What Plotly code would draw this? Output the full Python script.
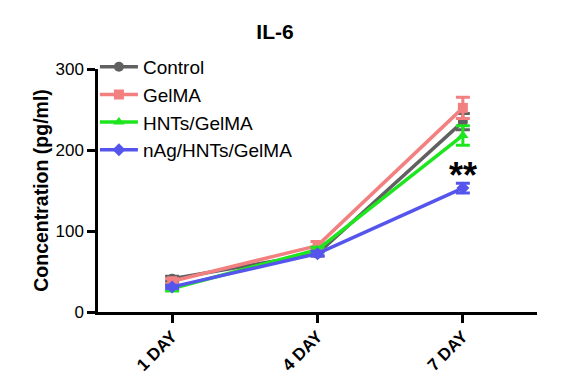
import plotly.graph_objects as go

days = ["1 DAY", "4 DAY", "7 DAY"]
control = [41, 72, 235]
control_err = [3, 3, 10]
gelma = [38, 82, 252]
gelma_err = [3, 5, 13]
hnts = [29, 77, 218]
hnts_err = [3, 3, 12]
nag = [31, 72, 153]
nag_err = [2, 3, 6]

names = ["Control", "GelMA", "HNTs/GelMA", "nAg/HNTs/GelMA"]
colors = ["#606060", "#f38080", "#1ee61e", "#5555ee"]
symbols = ["circle", "square", "triangle-up", "diamond"]
series = [control, gelma, hnts, nag]
errs = [control_err, gelma_err, hnts_err, nag_err]

FONT = "Liberation Sans, Arial, sans-serif"

fig = go.Figure()
for n, c, s, v, e in zip(names, colors, symbols, series, errs):
    fig.add_trace(go.Scatter(
        x=days, y=v, name=n, mode="lines+markers",
        line=dict(color=c, width=3.5),
        marker=dict(symbol=s, size=10, color=c),
        error_y=dict(type="data", array=e, color=c, thickness=3, width=7),
    ))

fig.add_annotation(x="7 DAY", y=168, text="<b>**</b>", showarrow=False,
                   font=dict(family=FONT, size=36, color="black"))

fig.update_layout(
    width=563, height=380,
    margin=dict(l=90, r=34, t=61, b=76),
    paper_bgcolor="white", plot_bgcolor="white",
    font=dict(family=FONT, color="black"),
    title=dict(text="<b>IL-6</b>", x=267/563, xanchor="center", y=1-24/380, yanchor="middle",
               font=dict(size=21, family=FONT, color="black")),
    showlegend=True,
    legend=dict(x=-0.007, y=1.087, xanchor="left", yanchor="top",
                font=dict(size=19, family=FONT, color="black"),
                bgcolor="rgba(0,0,0,0)", tracegroupgap=0, itemwidth=38),
    xaxis=dict(range=[-0.51, 2.51], showline=True, linecolor="black", linewidth=2.5,
               ticks="outside", ticklen=8, tickwidth=2.5, tickcolor="black",
               tickangle=-45, showgrid=False, zeroline=False, ticklabelstandoff=-3,
               tickfont=dict(size=17, family=FONT, color="black"),
               tickprefix="<b>", ticksuffix="</b>"),
    yaxis=dict(range=[0, 300], tickvals=[0, 100, 200, 300], showline=True, linecolor="black",
               linewidth=2.5, ticks="outside", ticklen=8, tickwidth=2.5, tickcolor="black",
               showgrid=False, zeroline=False,
               tickfont=dict(size=17, family=FONT, color="black"),
               tickprefix="<b>", ticksuffix="</b>",
               title=dict(text="<b>Concentration (pg/ml)</b>", standoff=2,
                          font=dict(size=19.5, family=FONT, color="black"))),
)

fig.write_html("out.html")
